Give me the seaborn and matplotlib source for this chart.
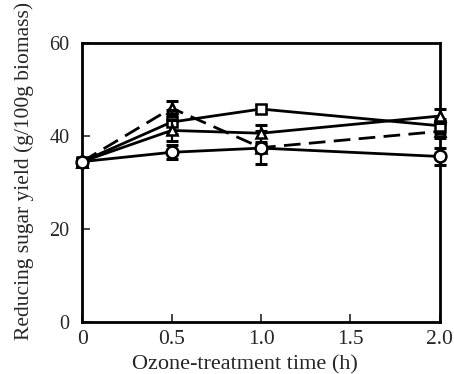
import numpy as np
import pandas as pd
import matplotlib
matplotlib.use("Agg")
import matplotlib.pyplot as plt
import seaborn as sns

sns.set_style("white")
plt.rcParams['font.family'] = ['Liberation Serif', 'DejaVu Serif']
plt.rcParams['mathtext.fontset'] = 'stix'

time = [0, 0.5, 1.0, 2.0]

dashed_tri = [34.5, 46.0, 37.5, 41.0]
dashed_tri_err = [0.5, 1.5, 3.5, 1.5]
solid_sq = [34.5, 43.0, 45.8, 42.2]
solid_sq_err = [0.5, 2.5, 0.8, 1.5]
solid_tri = [34.5, 41.2, 40.6, 44.3]
solid_tri_err = [0.5, 2.2, 1.8, 1.5]
circle = [34.5, 36.5, 37.4, 35.6]
circle_err = [0.6, 1.5, 0.8, 1.8]

x_ticks = [0, 0.5, 1.0, 1.5, 2.0]
x_labels = ["0", "0.5", "1.0", "1.5", "2.0"]
y_ticks = [0, 20, 40, 60]
y_labels = ["0", "20", "40", "60"]

fig = plt.figure(figsize=(4.54, 3.74), dpi=100)
ax = fig.add_axes([0.181, 0.139, 0.788, 0.746])

series = [
    (dashed_tri, dashed_tri_err, "^", 7.5, (6, 3)),
    (solid_sq, solid_sq_err, "s", 7, ""),
    (solid_tri, solid_tri_err, "^", 7.5, ""),
    (circle, circle_err, "o", 8.5, ""),
]

for i, (vals, errs, mk, ms, dash) in enumerate(series):
    df = pd.DataFrame({"t": time, "v": vals})
    ax.errorbar(time, vals, yerr=errs, fmt="none", ecolor="black",
                elinewidth=1.6, capsize=4.5, capthick=2.2, zorder=2 + i, clip_on=False)
    sns.lineplot(data=df, x="t", y="v", ax=ax, color="black", linewidth=2.0,
                 marker=mk, markersize=ms,
                 markerfacecolor="white", markeredgecolor="black",
                 markeredgewidth=1.8, zorder=3 + i, clip_on=False)
    if dash:
        ax.lines[-1].set_dashes(dash)

ax.set_xlim(0, 2.0)
ax.set_ylim(0, 60)
ax.set_xticks(x_ticks)
ax.set_xticklabels(x_labels)
ax.set_yticks(y_ticks)
ax.set_yticklabels(y_labels)
ax.tick_params(axis="x", direction="in", length=6, width=1.2, labelsize=15.5,
               top=False, bottom=True, pad=6)
ax.tick_params(axis="y", direction="in", length=6, width=1.2, labelsize=14.5,
               left=True, right=False, pad=9)
for s in ax.spines.values():
    s.set_linewidth(2.0)
    s.set_color("black")
ax.set_xlabel("Ozone-treatment time (h)", fontsize=16)
ax.set_ylabel("Reducing sugar yield (g/100g biomass)", fontsize=15.5)
ax.xaxis.set_label_coords(0.455, -0.12, transform=ax.transAxes)
ax.yaxis.set_label_coords(-0.135, 0.54, transform=ax.transAxes)

fig.savefig("out.png", dpi=100)
